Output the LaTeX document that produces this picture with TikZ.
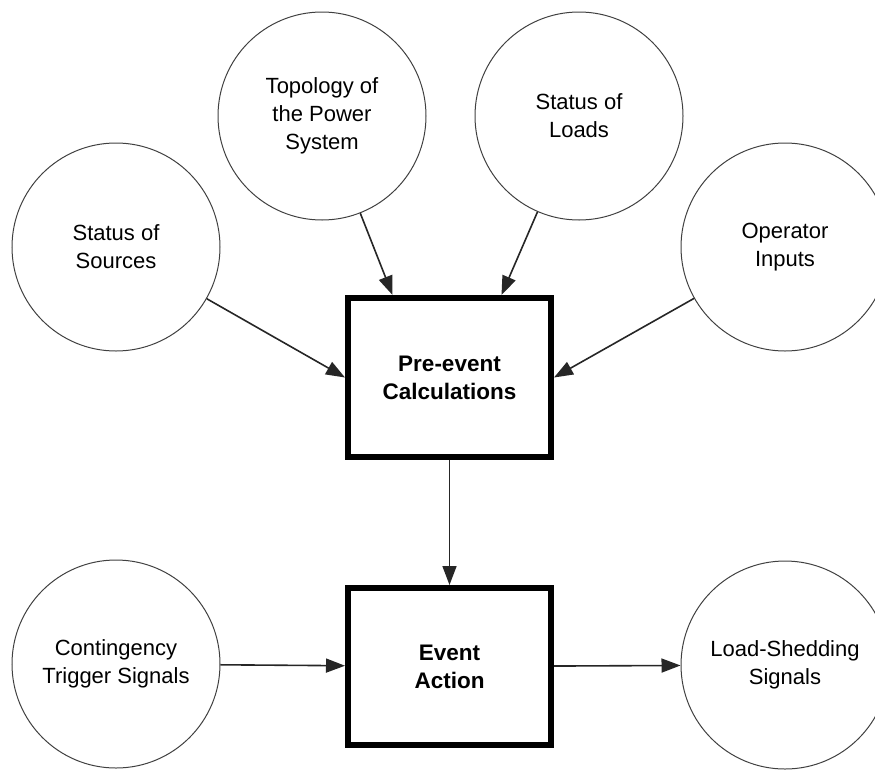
\documentclass[tikz,border=0pt]{standalone}
\usepackage{fontspec}
\setmainfont{Liberation Sans}
\usetikzlibrary{arrows.meta,calc}
\begin{document}
\begin{tikzpicture}[x=1pt,y=-1pt,
  txt/.style={align=center,font=\fontsize{22}{28}\selectfont},
  source/.style={txt,circle,draw=black!75,line width=1pt,minimum size=208pt,inner sep=0pt},
  stage/.style={txt,draw=black,line width=6pt,minimum width=203pt,font=\fontsize{22.5}{28}\selectfont\bfseries},
  flow/.style={draw=black!85,line width=1.6pt,-{Triangle[length=19pt,width=14pt]}}
]
\useasboundingbox (0,0) rectangle (875,769);

% input circles
\node[source] (src)   at (116,247) {Status of\\Sources};
\node[source] (topo)  at (322,116) {Topology of\\the Power\\System};
\node[source] (loads) at (579,116) {Status of\\Loads};
\node[source] (oper)  at (785,247) {Operator\\Inputs};

% processing boxes
\node[stage,minimum height=159pt] (pre)   at (449.5,377.5) {Pre-event\\Calculations};
\node[stage,minimum height=157pt] (event) at (449.5,666.5) {Event\\Action};

% trigger and output circles
\node[source] (cont) at (116,664) {Contingency\\Trigger Signals};
\node[source] (shed) at (785,665) {Load-Shedding\\Signals};

% connectors
\coordinate (preTL) at ($(pre.north)+(-57,0)$);
\coordinate (preTR) at ($(pre.north)+(52,0)$);
\draw[flow] (src) -- (pre.west);
\draw[flow] (topo) -- (preTL);
\draw[flow] (loads) -- (preTR);
\draw[flow] (oper) -- (pre.east);
\draw[flow] (pre) -- (event);
\draw[flow] (cont) -- (event);
\draw[flow] (event) -- (shed);
\end{tikzpicture}
\end{document}
